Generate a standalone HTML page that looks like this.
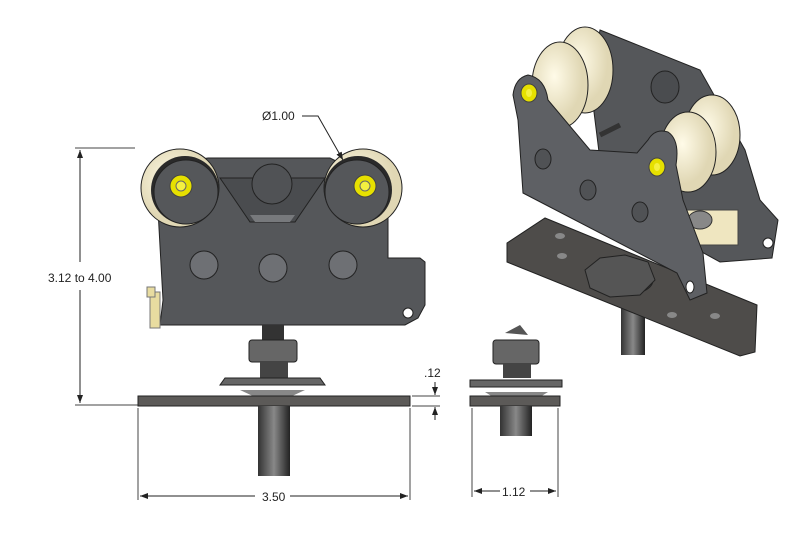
<!DOCTYPE html>
<html><head><meta charset="utf-8"><style>
html,body{margin:0;padding:0;background:#fff;}
svg{display:block;}
text{font-family:"Liberation Sans",sans-serif;font-size:12px;fill:#222;}
</style></head><body>
<svg width="788" height="557" viewBox="0 0 788 557" xmlns="http://www.w3.org/2000/svg">
<defs>
<marker id="ar" markerWidth="8" markerHeight="6" refX="8" refY="3" orient="auto"><path d="M0,0 L8,3 L0,6 z" fill="#222"/></marker>
<linearGradient id="bolt" x1="0" x2="1"><stop offset="0" stop-color="#333"/><stop offset=".5" stop-color="#888"/><stop offset="1" stop-color="#222"/></linearGradient>
<radialGradient id="wh" cx=".4" cy=".4"><stop offset="0" stop-color="#fffbe8"/><stop offset="1" stop-color="#e0d7b4"/></radialGradient>
</defs>
<!-- vertical dimension -->
<line x1="75" y1="148" x2="135" y2="148" stroke="#444" stroke-width="1"/>
<line x1="75" y1="405" x2="140" y2="405" stroke="#444" stroke-width="1"/>
<line x1="80" y1="262" x2="80" y2="150" stroke="#222" marker-end="url(#ar)"/>
<line x1="80" y1="290" x2="80" y2="403" stroke="#222" marker-end="url(#ar)"/>
<text x="48" y="282">3.12 to 4.00</text>
<!-- body -->
<path d="M160,165 L208,158 L330,158 L350,168 L388,175 L388,258 L420,258 L425,262 L425,305 L418,318 L405,325 L160,325 L163,300 L158,210 Z" fill="#55575a" stroke="#222"/>
<path d="M220,178 L250,222 L295,222 L325,178 Z" fill="#4a4c4f" stroke="#222"/>
<path d="M250,215 L295,215 L290,222 L255,222 Z" fill="#77797c"/>
<circle cx="272" cy="184" r="20" fill="#505255" stroke="#222"/>
<circle cx="204" cy="265" r="14" fill="#6e7074" stroke="#222"/>
<circle cx="273" cy="268" r="14" fill="#6e7074" stroke="#222"/>
<circle cx="343" cy="265" r="14" fill="#6e7074" stroke="#222"/>
<circle cx="408" cy="313" r="5" fill="#fff" stroke="#222"/>
<!-- wheels -->
<circle cx="180" cy="188" r="39" fill="url(#wh)" stroke="#222"/>
<circle cx="185" cy="190" r="34" fill="#2a2a2a"/>
<circle cx="186" cy="192" r="32" fill="#55575a" stroke="#222"/>
<circle cx="363" cy="188" r="39" fill="url(#wh)" stroke="#222"/>
<circle cx="358" cy="190" r="34" fill="#2a2a2a"/>
<circle cx="357" cy="192" r="32" fill="#55575a" stroke="#222"/>
<circle cx="181" cy="186" r="11" fill="#e6e000" stroke="#444"/><circle cx="181" cy="186" r="5" fill="#f4f040" stroke="#666"/>
<circle cx="365" cy="186" r="11" fill="#e6e000" stroke="#444"/><circle cx="365" cy="186" r="5" fill="#f4f040" stroke="#666"/>
<rect x="150" y="292" width="10" height="36" fill="#e8dca0" stroke="#777"/>
<rect x="147" y="287" width="8" height="10" fill="#e8dca0" stroke="#777"/>
<!-- Ø label -->
<text x="262" y="120">Ø1.00</text>
<path d="M302,116 L318,116 L343,160" fill="none" stroke="#222" marker-end="url(#ar)"/>
<!-- stud -->
<rect x="262" y="325" width="22" height="18" fill="#333"/>
<rect x="249" y="340" width="48" height="22" rx="3" fill="#666" stroke="#222"/>
<rect x="260" y="362" width="28" height="16" fill="#444"/>
<path d="M220,385 L325,385 L320,378 L225,378 Z" fill="#666" stroke="#222"/>
<path d="M240,390 L305,390 L290,397 L255,397 Z" fill="#888"/>
<rect x="138" y="396" width="272" height="10" fill="#5c5a58" stroke="#222"/>
<rect x="258" y="406" width="32" height="70" fill="url(#bolt)"/>
<!-- .12 -->
<line x1="412" y1="396" x2="440" y2="396" stroke="#444"/>
<line x1="412" y1="406" x2="440" y2="406" stroke="#444"/>
<line x1="435" y1="382" x2="435" y2="395" stroke="#222" marker-end="url(#ar)"/>
<line x1="435" y1="420" x2="435" y2="407" stroke="#222" marker-end="url(#ar)"/>
<text x="424" y="377">.12</text>
<!-- 3.50 -->
<line x1="138" y1="408" x2="138" y2="500" stroke="#444"/>
<line x1="410" y1="408" x2="410" y2="500" stroke="#444"/>
<line x1="255" y1="496" x2="140" y2="496" stroke="#222" marker-end="url(#ar)"/>
<line x1="290" y1="496" x2="408" y2="496" stroke="#222" marker-end="url(#ar)"/>
<text x="262" y="501">3.50</text>
<!-- side view -->
<path d="M505,333 L520,325 L528,335 Z" fill="#555"/>
<rect x="493" y="340" width="46" height="24" rx="3" fill="#666" stroke="#222"/>
<rect x="503" y="364" width="28" height="14" fill="#444"/>
<rect x="470" y="380" width="92" height="7" fill="#666" stroke="#222"/>
<path d="M485,392 L548,392 L540,397 L493,397 Z" fill="#888"/>
<rect x="470" y="396" width="90" height="10" fill="#5c5a58" stroke="#222"/>
<rect x="500" y="406" width="32" height="30" fill="url(#bolt)"/>
<line x1="472" y1="408" x2="472" y2="497" stroke="#444"/>
<line x1="558" y1="408" x2="558" y2="497" stroke="#444"/>
<line x1="500" y1="491" x2="474" y2="491" stroke="#222" marker-end="url(#ar)"/>
<line x1="530" y1="491" x2="556" y2="491" stroke="#222" marker-end="url(#ar)"/>
<text x="502" y="496">1.12</text>
<!-- iso view -->
<rect x="621" y="305" width="24" height="50" fill="url(#bolt)"/>
<path d="M507,243 L545,218 L757,305 L755,352 L740,356 L507,262 Z" fill="#4e4c4a" stroke="#222"/>
<ellipse cx="560" cy="236" rx="5" ry="3" fill="#888"/><ellipse cx="562" cy="256" rx="5" ry="3" fill="#888"/><ellipse cx="672" cy="315" rx="5" ry="3" fill="#888"/><ellipse cx="715" cy="316" rx="5" ry="3" fill="#888"/>
<ellipse cx="625" cy="280" rx="28" ry="15" fill="#3e3e3e" stroke="#222"/>
<path d="M600,30 L700,70 L745,150 L760,200 L778,220 L772,258 L720,262 L680,240 L600,160 L590,80 Z" fill="#55575a" stroke="#222"/>
<ellipse cx="665" cy="87" rx="14" ry="16" fill="#4a4c4f" stroke="#222"/>
<rect x="683" y="210" width="55" height="35" fill="#efe6c0" stroke="#444"/>
<ellipse cx="700" cy="220" rx="12" ry="9" fill="#888" stroke="#333"/>
<circle cx="768" cy="243" r="5" fill="#fff" stroke="#222"/>
<ellipse cx="585" cy="70" rx="28" ry="43" fill="url(#wh)" stroke="#222"/>
<ellipse cx="560" cy="85" rx="28" ry="43" fill="url(#wh)" stroke="#222"/>
<ellipse cx="712" cy="135" rx="28" ry="40" fill="url(#wh)" stroke="#222"/>
<ellipse cx="688" cy="152" rx="28" ry="40" fill="url(#wh)" stroke="#222"/>
<line x1="600" y1="135" x2="620" y2="125" stroke="#333" stroke-width="5"/>
<path d="M513,95 Q515,78 528,75 Q545,78 548,100 L590,150 L637,153 L648,140 Q655,128 668,132 Q680,140 676,165 L683,200 L703,253 L707,293 L690,300 L677,273 L523,193 L518,120 Z" fill="#5e6064" stroke="#222"/>
<ellipse cx="543" cy="159" rx="8" ry="10" fill="#505255" stroke="#222"/>
<ellipse cx="588" cy="190" rx="8" ry="10" fill="#505255" stroke="#222"/>
<ellipse cx="640" cy="212" rx="8" ry="10" fill="#505255" stroke="#222"/>
<ellipse cx="690" cy="287" rx="4" ry="6" fill="#fff" stroke="#222"/>
<ellipse cx="529" cy="93" rx="8" ry="9" fill="#e6e000" stroke="#444"/><ellipse cx="529" cy="93" rx="3" ry="4" fill="#f4f040"/>
<ellipse cx="657" cy="167" rx="8" ry="9" fill="#e6e000" stroke="#444"/><ellipse cx="657" cy="167" rx="3" ry="4" fill="#f4f040"/>
<path d="M585,270 L600,258 L625,255 L648,262 L655,280 L640,295 L610,297 L590,288 Z" fill="#555" stroke="#222"/>
</svg>
</body></html>
